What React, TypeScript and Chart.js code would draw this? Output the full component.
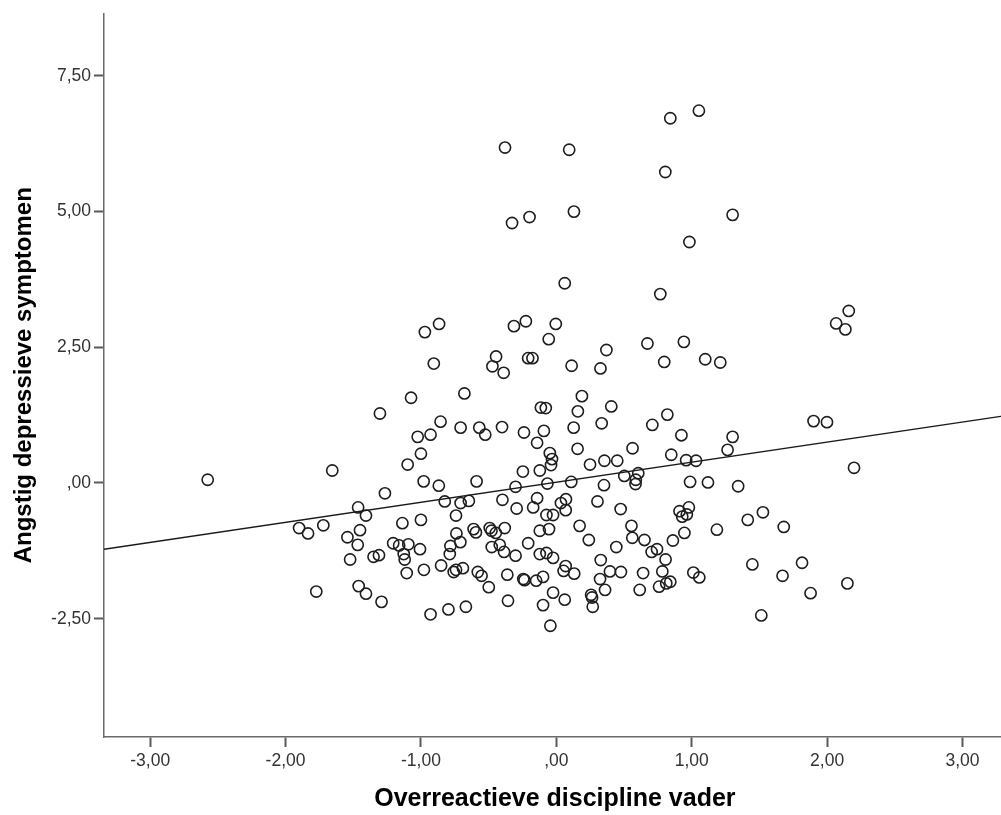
import React, { useEffect, useRef } from "react";
import { Chart, registerables } from "chart.js";

Chart.register(...registerables);

const xValues = [
  1.053, 0.842, -0.379, 0.095, 0.805, 0.130, -0.198, -0.327, 1.302, 0.983, 0.062, 0.768,
  -0.313, -0.225, -0.004, -0.056, -0.445, -0.472, -0.389, -0.208, -0.176, 0.113, 0.370, 0.326, 0.673, 0.797, 0.942, 1.100, 1.211, 2.160, 2.067, 2.135, 1.900, 1.999,
  -0.971, -0.866, -0.905, -0.679, -1.073, -1.303, -0.855, -0.707, -0.569, -0.525, -0.401, -0.239, -0.092, -0.142, -1.024, -0.929, -1.000, -1.098,
  0.189, 0.159, 0.406, -0.114, -0.078, 0.128, 0.335, 0.709, 0.820, 0.157, 0.563, 0.924, 1.302, 1.265, 0.849,
  -0.048, -0.032, -0.039, -0.122, -0.247, 0.249, 0.355, 0.450, 0.959, 1.032, 2.199, -1.655, -2.575,
  -0.980, -0.868, -0.589, -0.301, -0.066, 0.110, 0.352, 0.502, 0.605, 0.587, 0.585, 0.988, 1.120, 1.343,
  -1.266, -1.464, -1.406, -0.824, -0.707, -0.646, -0.741, -0.398, -0.293, -0.142, -0.171, 0.034, 0.071, 0.069, 0.304, 0.475, -0.073, -0.024,
  -1.900, -1.834, -1.721, -1.543, -1.450, -1.467, -1.523, -1.350, -1.310, -1.137, -1.000, -1.205, -1.161, -1.093, -1.127, -1.120, -1.007, -1.105, -0.978, -0.851, -0.741, -0.690, -0.758,
  -0.738, -0.709, -0.782, -0.787, -0.611, -0.594, -0.492, -0.479, -0.447, -0.381, -0.122, -0.054, 0.172, 0.240, 0.443, 0.555, 0.561, 0.651, 0.744, 0.704, 0.807, 0.861,
  -0.477, -0.418, -0.386, -0.301, -0.208, -0.122, -0.073, -0.024, 0.328, 0.069, 0.054, 0.132, 0.396, 0.477, 0.641, 0.783, 0.759, 0.812, 0.842, 0.323, 0.360, 0.257, 0.264, 0.269, 0.616,
  -0.580, -0.552, -0.499, -0.362, -0.244, -0.235, -0.149, -0.098, -0.357, -0.098, -0.024, 0.062, -0.044,
  -1.773, -1.460, -1.406, -1.291, -0.929, -0.797, -0.668,
  0.910, 0.979, 0.930, 0.964, 0.946, 1.186, 1.414, 1.526, 1.680, 1.448, 1.671, 1.815, 1.878, 2.150, 1.514, 1.012, 1.056,
];

const yValues = [
  6.86, 6.72, 6.18, 6.14, 5.73, 5.00, 4.90, 4.79, 4.94, 4.44, 3.68, 3.48,
  2.89, 2.98, 2.93, 2.65, 2.33, 2.15, 2.03, 2.30, 2.30, 2.16, 2.45, 2.11, 2.57, 2.23, 2.60, 2.28, 2.22, 3.17, 2.94, 2.83, 1.14, 1.12,
  2.78, 2.93, 2.20, 1.65, 1.57, 1.28, 1.13, 1.02, 1.02, 0.89, 1.03, 0.93, 0.96, 0.74, 0.85, 0.89, 0.54, 0.34,
  1.60, 1.32, 1.41, 1.39, 1.38, 1.02, 1.10, 1.07, 1.26, 0.63, 0.64, 0.88, 0.85, 0.61, 0.52,
  0.55, 0.44, 0.33, 0.23, 0.21, 0.34, 0.41, 0.41, 0.42, 0.41, 0.28, 0.23, 0.06,
  0.03, -0.05, 0.03, -0.07, -0.01, 0.02, -0.04, 0.13, 0.18, 0.06, -0.02, 0.02, 0.01, -0.06,
  -0.19, -0.45, -0.60, -0.34, -0.37, -0.33, -0.60, -0.31, -0.47, -0.28, -0.45, -0.37, -0.30, -0.50, -0.34, -0.48, -0.59, -0.59,
  -0.83, -0.93, -0.78, -1.00, -0.87, -1.14, -1.41, -1.36, -1.33, -0.74, -0.68, -1.11, -1.15, -1.13, -1.31, -1.41, -1.22, -1.66, -1.60, -1.52, -1.60, -1.57, -1.64,
  -0.93, -1.09, -1.16, -1.31, -0.85, -0.91, -0.83, -0.88, -0.92, -0.83, -0.88, -0.85, -0.79, -1.05, -1.18, -0.79, -1.01, -1.05, -1.22, -1.27, -1.41, -1.06,
  -1.18, -1.14, -1.27, -1.34, -1.11, -1.31, -1.29, -1.38, -1.42, -1.53, -1.62, -1.67, -1.63, -1.64, -1.66, -1.63, -1.91, -1.85, -1.82, -1.77, -1.97, -2.06, -2.11, -2.28, -1.97,
  -1.64, -1.71, -1.92, -1.69, -1.77, -1.79, -1.80, -1.73, -2.17, -2.25, -2.02, -2.15, -2.63,
  -2.00, -1.90, -2.04, -2.19, -2.42, -2.33, -2.28,
  -0.52, -0.45, -0.62, -0.58, -0.92, -0.86, -0.68, -0.54, -0.81, -1.50, -1.71, -1.47, -2.03, -1.85, -2.44, -1.65, -1.74,
];

// Fit line endpoints (at the axis edges)
const fitX = [-3.341, 3.32];
const fitY = [-1.221, 1.241];

const xTicks = [-3, -2, -1, 0, 1, 2, 3];
const yTicks = [-2.5, 0, 2.5, 5, 7.5];

const xTitle = "Overreactieve discipline vader";
const yTitle = "Angstig depressieve symptomen";

const X_MIN = -3.341;
const X_MAX = 3.32;
const Y_MIN = -4.68;
const Y_MAX = 8.65;

function fmt(v: number): string {
  if (v === 0) return ",00";
  return v.toFixed(2).replace(".", ",");
}

const CANVAS_W = 1013;
const CANVAS_H = 815;

export default function App() {
  const ref = useRef<HTMLCanvasElement | null>(null);

  useEffect(() => {
    if (!ref.current) return;
    const tickFont = { family: "'Liberation Sans', Arial, sans-serif", size: 17.5 };
    const xTitleFont = { family: "'Liberation Sans', Arial, sans-serif", size: 25, weight: "bold" as const };
    const yTitleFont = { family: "'Liberation Sans', Arial, sans-serif", size: 24, weight: "bold" as const };

    const chart = new Chart(ref.current, {
      type: "scatter",
      data: {
        datasets: [
          {
            type: "scatter",
            data: xValues.map((x, i) => ({ x, y: yValues[i] })),
            pointRadius: 5.6,
            pointHoverRadius: 5.6,
            pointBorderWidth: 1.6,
            pointBorderColor: "#1e1e1e",
            pointBackgroundColor: "rgba(0,0,0,0)",
            showLine: false,
            order: 1,
          },
          {
            type: "line",
            data: fitX.map((x, i) => ({ x, y: fitY[i] })),
            borderColor: "#1a1a1a",
            borderWidth: 1.5,
            pointRadius: 0,
            fill: false,
            order: 0,
          } as any,
        ],
      },
      options: {
        responsive: false,
        animation: false,
        devicePixelRatio: 1,
        layout: { padding: { top: 13, right: 1, left: 0, bottom: 0 } },
        plugins: {
          legend: { display: false },
          tooltip: { enabled: false },
        },
        scales: {
          x: {
            type: "linear",
            min: X_MIN,
            max: X_MAX,
            afterBuildTicks: (s: any) => {
              s.ticks = xTicks.map((v) => ({ value: v }));
            },
            afterFit: (s: any) => {
              s.height = 78;
            },
            grid: {
              drawOnChartArea: false,
              drawTicks: true,
              tickLength: 10,
              tickWidth: 2,
              tickColor: "#5a5a5a",
            },
            border: { display: true, color: "#6a6a6a", width: 1.5 },
            ticks: {
              font: tickFont,
              color: "#333333",
              padding: 4,
              maxRotation: 0,
              autoSkip: false,
              callback: (v: any) => fmt(Number(v)),
            },
            title: {
              display: true,
              text: xTitle,
              font: xTitleFont,
              color: "#000000",
              padding: { top: 0, bottom: 1 },
            },
          },
          y: {
            type: "linear",
            min: Y_MIN,
            max: Y_MAX,
            afterBuildTicks: (s: any) => {
              s.ticks = yTicks.map((v) => ({ value: v }));
            },
            afterFit: (s: any) => {
              s.width = 104;
            },
            grid: {
              drawOnChartArea: false,
              drawTicks: true,
              tickLength: 10,
              tickWidth: 2,
              tickColor: "#5a5a5a",
            },
            border: { display: true, color: "#6a6a6a", width: 1.5 },
            ticks: {
              font: tickFont,
              color: "#333333",
              padding: 3,
              autoSkip: false,
              callback: (v: any) => fmt(Number(v)),
            },
            title: {
              display: true,
              text: yTitle,
              font: yTitleFont,
              color: "#000000",
              padding: { top: 10, bottom: 0 },
            },
          },
        },
      },
    });
    return () => chart.destroy();
  }, []);

  return (
    <div
      style={{
        position: "fixed",
        left: 0,
        top: 0,
        width: 1001,
        height: 815,
        overflow: "hidden",
        background: "#ffffff",
      }}
    >
      <canvas ref={ref} width={CANVAS_W} height={CANVAS_H} style={{ display: "block", width: CANVAS_W, height: CANVAS_H }} />
    </div>
  );
}
